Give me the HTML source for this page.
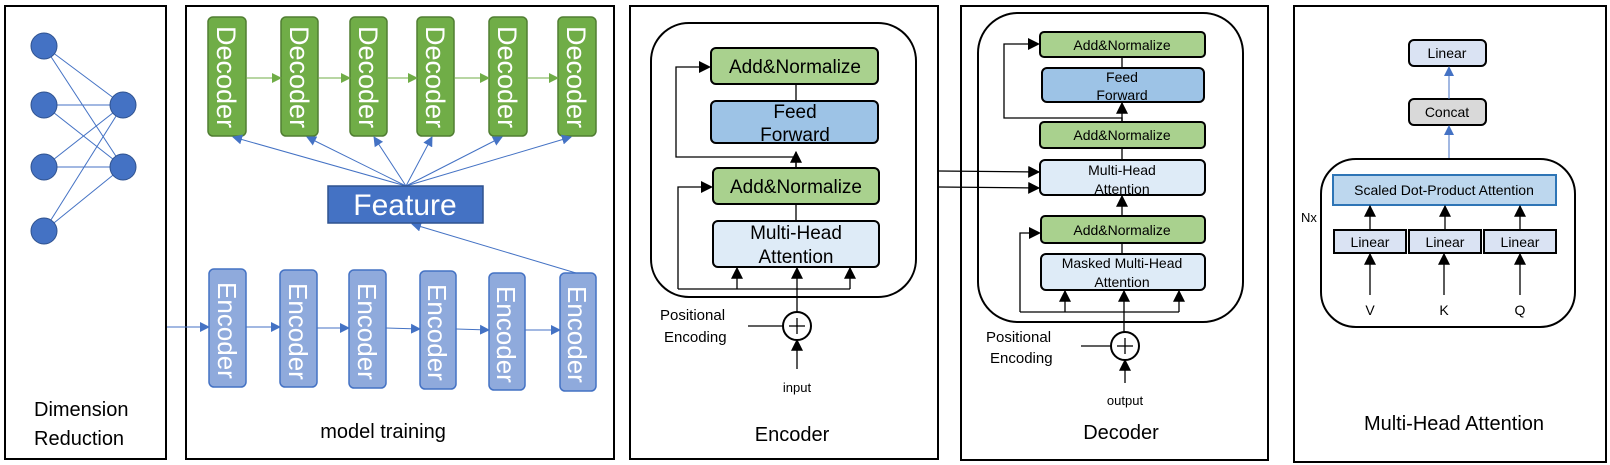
<!DOCTYPE html>
<html><head><meta charset="utf-8"><style>body{margin:0;background:#fff}svg{display:block}text{font-family:"Liberation Sans",sans-serif}</style></head>
<body>
<svg width="1610" height="465" viewBox="0 0 1610 465" xmlns="http://www.w3.org/2000/svg">
<defs>
<marker id="ab" viewBox="0 0 10 10" refX="9" refY="5" markerWidth="10" markerHeight="10" orient="auto" markerUnits="userSpaceOnUse"><path d="M0,0L10,5L0,10z" fill="#4472C4"/></marker>
<marker id="ag" viewBox="0 0 10 10" refX="9" refY="5" markerWidth="10" markerHeight="10" orient="auto" markerUnits="userSpaceOnUse"><path d="M0,0L10,5L0,10z" fill="#70AD47"/></marker>
<marker id="ak" viewBox="0 0 10 10" refX="9" refY="5" markerWidth="12" markerHeight="12" orient="auto" markerUnits="userSpaceOnUse"><path d="M0,0L10,5L0,10z" fill="#000"/></marker>
</defs>
<g fill="none" stroke="#000" stroke-width="2">
<rect x="5" y="6" width="161" height="453"/>
<rect x="186" y="6" width="428" height="453"/>
<rect x="630" y="6" width="308" height="453"/>
<rect x="961" y="6" width="307" height="454"/>
<rect x="1294" y="6" width="312" height="456"/>
</g>
<g stroke="#4472C4" stroke-width="1">
<line x1="44" y1="46" x2="123" y2="105"/><line x1="44" y1="46" x2="123" y2="167"/>
<line x1="44" y1="105" x2="123" y2="105"/><line x1="44" y1="105" x2="123" y2="167"/>
<line x1="44" y1="167" x2="123" y2="105"/><line x1="44" y1="167" x2="123" y2="167"/>
<line x1="44" y1="231" x2="123" y2="105"/><line x1="44" y1="231" x2="123" y2="167"/>
</g>
<g fill="#4472C4" stroke="#2F528F" stroke-width="1">
<ellipse cx="44" cy="46" rx="13" ry="13"/><ellipse cx="44" cy="105" rx="13" ry="13"/><ellipse cx="44" cy="167" rx="13" ry="13"/><ellipse cx="44" cy="231" rx="13" ry="13"/>
<ellipse cx="123" cy="105" rx="13" ry="13"/><ellipse cx="123" cy="167" rx="13" ry="13"/>
</g>
<text x="34" y="416" font-size="20">Dimension</text><text x="34" y="445" font-size="20">Reduction</text>
<g fill="#70AD47" stroke="#507E32" stroke-width="1.5">
<rect x="208" y="17" width="38" height="119" rx="5"/><rect x="281" y="17" width="37" height="119" rx="5"/><rect x="350" y="17" width="37" height="119" rx="5"/><rect x="417" y="17" width="37" height="119" rx="5"/><rect x="489" y="17" width="38" height="119" rx="5"/><rect x="558" y="17" width="38" height="119" rx="5"/>
</g>
<g fill="#fff" font-size="27">
<text transform="translate(217,26) rotate(90)">Decoder</text><text transform="translate(290,26) rotate(90)">Decoder</text><text transform="translate(359,26) rotate(90)">Decoder</text><text transform="translate(426,26) rotate(90)">Decoder</text><text transform="translate(498,26) rotate(90)">Decoder</text><text transform="translate(567,26) rotate(90)">Decoder</text>
</g>
<g stroke="#70AD47" stroke-width="1" marker-end="url(#ag)">
<line x1="246" y1="78" x2="281" y2="78"/><line x1="318" y1="78" x2="350" y2="78"/><line x1="387" y1="78" x2="417" y2="78"/><line x1="454" y1="78" x2="489" y2="78"/><line x1="527" y1="78" x2="558" y2="78"/>
</g>
<g stroke="#4472C4" stroke-width="1" marker-end="url(#ab)">
<line x1="406" y1="186" x2="233" y2="137"/><line x1="406" y1="186" x2="307" y2="137"/><line x1="406" y1="186" x2="374" y2="137"/><line x1="406" y1="186" x2="432" y2="137"/><line x1="406" y1="186" x2="502" y2="137"/><line x1="406" y1="186" x2="571" y2="137"/>
<line x1="576" y1="273" x2="412" y2="224"/>
<line x1="167" y1="327" x2="209" y2="327"/><line x1="246" y1="327" x2="280" y2="327"/><line x1="317" y1="328" x2="349" y2="328"/><line x1="386" y1="328" x2="420" y2="329"/><line x1="456" y1="329" x2="489" y2="330"/><line x1="525" y1="330" x2="560" y2="330"/>
</g>
<rect x="328" y="186" width="155" height="37" fill="#4472C4" stroke="#2F528F" stroke-width="1.5"/>
<text x="405" y="215" font-size="30" fill="#fff" text-anchor="middle">Feature</text>
<g fill="#8FAADC" stroke="#4472C4" stroke-width="1.5">
<rect x="209" y="269" width="37" height="118" rx="5"/><rect x="280" y="270" width="37" height="117" rx="5"/><rect x="349" y="270" width="37" height="118" rx="5"/><rect x="420" y="271" width="36" height="118" rx="5"/><rect x="489" y="273" width="36" height="117" rx="5"/><rect x="560" y="273" width="36" height="118" rx="5"/>
</g>
<g fill="#fff" font-size="26">
<text transform="translate(218,282) rotate(90)">Encoder</text><text transform="translate(289,283) rotate(90)">Encoder</text><text transform="translate(358,283) rotate(90)">Encoder</text><text transform="translate(428,284) rotate(90)">Encoder</text><text transform="translate(497,286) rotate(90)">Encoder</text><text transform="translate(568,286) rotate(90)">Encoder</text>
</g>
<text x="383" y="438" font-size="20" text-anchor="middle">model training</text>
<rect x="651" y="23" width="265" height="274" rx="38" fill="none" stroke="#000" stroke-width="2"/>
<g stroke="#000" stroke-width="2">
<rect x="711" y="48" width="167" height="36" rx="5" fill="#A9D18E"/>
<rect x="711" y="101" width="167" height="42" rx="5" fill="#9DC3E6"/>
<rect x="713" y="168" width="166" height="36" rx="5" fill="#A9D18E"/>
<rect x="713" y="221" width="166" height="46" rx="5" fill="#DEEBF7"/>
</g>
<g stroke="#000" stroke-width="1.3" fill="none">
<line x1="796" y1="84" x2="796" y2="101"/><line x1="796" y1="204" x2="796" y2="221"/>
<polyline points="796,168 796,157 676,157 676,67 700,67"/>
<polyline points="678,289 678,187 702,187"/>
<line x1="678" y1="289" x2="850" y2="289"/>
<line x1="796" y1="168" x2="796" y2="152" marker-end="url(#ak)"/>
<line x1="737" y1="289" x2="737" y2="268" marker-end="url(#ak)"/>
<line x1="797" y1="312" x2="797" y2="268" marker-end="url(#ak)"/>
<line x1="850" y1="289" x2="850" y2="268" marker-end="url(#ak)"/>
<line x1="748" y1="326" x2="783" y2="326"/>
<line x1="797" y1="369" x2="797" y2="340" marker-end="url(#ak)"/>
<circle cx="797" cy="326" r="14" fill="#fff" stroke-width="2"/>
<line x1="789" y1="326" x2="805" y2="326"/><line x1="797" y1="318" x2="797" y2="334"/>
</g>
<polygon points="711,67 699,61 699,73" fill="#000"/><polygon points="713,187 701,181 701,193" fill="#000"/>
<g font-size="19" text-anchor="middle"><text x="795" y="73">Add&amp;Normalize</text><text x="795" y="118">Feed</text><text x="795" y="141">Forward</text><text x="796" y="193">Add&amp;Normalize</text><text x="796" y="239">Multi-Head</text><text x="796" y="263">Attention</text></g>
<text x="660" y="320" font-size="15">Positional</text><text x="664" y="342" font-size="15">Encoding</text>
<text x="797" y="392" font-size="13" text-anchor="middle">input</text>
<text x="792" y="441" font-size="20" text-anchor="middle">Encoder</text>
<g stroke="#000" stroke-width="1.3"><line x1="939" y1="171" x2="1039" y2="172" marker-end="url(#ak)"/><line x1="939" y1="187" x2="1039" y2="188" marker-end="url(#ak)"/></g>
<rect x="978" y="13" width="265" height="309" rx="40" fill="none" stroke="#000" stroke-width="2"/>
<g stroke="#000" stroke-width="2">
<rect x="1040" y="32" width="165" height="25" rx="4" fill="#A9D18E"/>
<rect x="1042" y="68" width="162" height="34" rx="5" fill="#9DC3E6"/>
<rect x="1040" y="122" width="165" height="26" rx="4" fill="#A9D18E"/>
<rect x="1040" y="160" width="165" height="35" rx="5" fill="#DEEBF7"/>
<rect x="1041" y="216" width="164" height="27" rx="4" fill="#A9D18E"/>
<rect x="1041" y="254" width="164" height="36" rx="5" fill="#DEEBF7"/>
</g>
<g stroke="#000" stroke-width="1.3" fill="none">
<line x1="1122" y1="57" x2="1122" y2="68"/><line x1="1122" y1="148" x2="1122" y2="160"/><line x1="1122" y1="243" x2="1122" y2="254"/>
<polyline points="1122,122 1122,118 1004,118 1004,44 1029,44"/>
<line x1="1122" y1="122" x2="1122" y2="103" marker-end="url(#ak)"/>
<line x1="1122" y1="216" x2="1122" y2="196" marker-end="url(#ak)"/>
<polyline points="1020,312 1020,233 1030,233"/>
<line x1="1020" y1="312" x2="1179" y2="312"/>
<line x1="1065" y1="312" x2="1065" y2="291" marker-end="url(#ak)"/>
<line x1="1124" y1="332" x2="1124" y2="291" marker-end="url(#ak)"/>
<line x1="1179" y1="312" x2="1179" y2="291" marker-end="url(#ak)"/>
<line x1="1081" y1="346" x2="1111" y2="346"/>
<line x1="1125" y1="383" x2="1125" y2="360" marker-end="url(#ak)"/>
<circle cx="1125" cy="346" r="14" fill="#fff" stroke-width="2"/>
<line x1="1117" y1="346" x2="1133" y2="346"/><line x1="1125" y1="338" x2="1125" y2="354"/>
</g>
<polygon points="1040,44 1028,38 1028,50" fill="#000"/><polygon points="1041,233 1029,227 1029,239" fill="#000"/>
<g font-size="14" text-anchor="middle"><text x="1122" y="50">Add&amp;Normalize</text><text x="1122" y="82">Feed</text><text x="1122" y="100">Forward</text><text x="1122" y="140">Add&amp;Normalize</text><text x="1122" y="175">Multi-Head</text><text x="1122" y="194">Attention</text><text x="1122" y="235">Add&amp;Normalize</text><text x="1122" y="268">Masked Multi-Head</text><text x="1122" y="287">Attention</text></g>
<text x="986" y="342" font-size="15">Positional</text><text x="990" y="363" font-size="15">Encoding</text>
<text x="1125" y="405" font-size="13" text-anchor="middle">output</text>
<text x="1121" y="439" font-size="20" text-anchor="middle">Decoder</text>
<rect x="1409" y="40" width="77" height="26" rx="5" fill="#DAE3F3" stroke="#000" stroke-width="2"/>
<rect x="1409" y="99" width="77" height="26" rx="5" fill="#D9D9D9" stroke="#000" stroke-width="2"/>
<g stroke="#4472C4" stroke-width="1"><line x1="1449" y1="99" x2="1449" y2="67" marker-end="url(#ab)"/><line x1="1449" y1="159" x2="1449" y2="126" marker-end="url(#ab)"/></g>
<rect x="1321" y="159" width="254" height="168" rx="35" fill="none" stroke="#000" stroke-width="2"/>
<rect x="1333" y="175" width="223" height="30" fill="#BDD7EE" stroke="#2E75B6" stroke-width="2"/>
<g fill="#DAE3F3" stroke="#000" stroke-width="2"><rect x="1334" y="230" width="72" height="23"/><rect x="1409" y="230" width="72" height="23"/><rect x="1484" y="230" width="72" height="23"/></g>
<g stroke="#000" stroke-width="1.3">
<line x1="1370" y1="230" x2="1370" y2="206" marker-end="url(#ak)"/><line x1="1445" y1="230" x2="1445" y2="206" marker-end="url(#ak)"/><line x1="1520" y1="230" x2="1520" y2="206" marker-end="url(#ak)"/>
<line x1="1370" y1="295" x2="1370" y2="254" marker-end="url(#ak)"/><line x1="1444" y1="295" x2="1444" y2="254" marker-end="url(#ak)"/><line x1="1520" y1="295" x2="1520" y2="254" marker-end="url(#ak)"/>
</g>
<g font-size="14" text-anchor="middle"><text x="1447" y="58">Linear</text><text x="1447" y="117">Concat</text><text x="1444" y="195">Scaled Dot-Product Attention</text><text x="1370" y="247">Linear</text><text x="1445" y="247">Linear</text><text x="1520" y="247">Linear</text><text x="1370" y="315">V</text><text x="1444" y="315">K</text><text x="1520" y="315">Q</text></g>
<text x="1301" y="222" font-size="13">Nx</text>
<text x="1454" y="430" font-size="20" text-anchor="middle">Multi-Head Attention</text>
</svg>
</body></html>
